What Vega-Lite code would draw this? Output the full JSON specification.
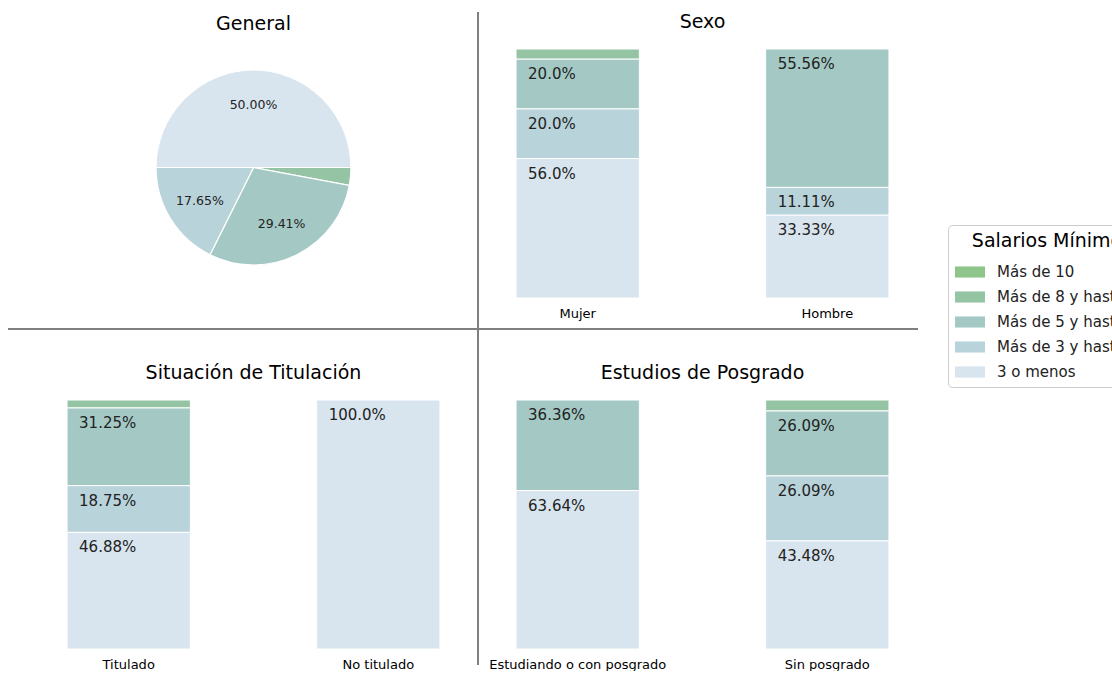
{
  "$schema": "https://vega.github.io/schema/vega-lite/v6.json",
  "background": "white",
  "padding": {"left": 7, "top": 11, "right": 0, "bottom": 0},
  "config": {
    "font": "DejaVu Sans",
    "view": {"stroke": null},
    "title": {"fontSize": 19, "fontWeight": "normal", "color": "#000000", "offset": 17, "frame": "group"},
    "axis": {"labelFont": "DejaVu Sans"}
  },
  "datasets": {
    "general": [
      {"cat": "3 o menos", "pct": 50.0, "label": "50.00%", "ord": 1},
      {"cat": "Más de 8 y hasta 10", "pct": 2.94, "label": "", "ord": 2},
      {"cat": "Más de 5 y hasta 8", "pct": 29.41, "label": "29.41%", "ord": 3},
      {"cat": "Más de 3 y hasta 5", "pct": 17.65, "label": "17.65%", "ord": 4}
    ],
    "sexo": [
      {"group": "Mujer", "cat": "3 o menos", "pct": 56.0, "label": "56.0%", "ord": 1},
      {"group": "Mujer", "cat": "Más de 3 y hasta 5", "pct": 20.0, "label": "20.0%", "ord": 2},
      {"group": "Mujer", "cat": "Más de 5 y hasta 8", "pct": 20.0, "label": "20.0%", "ord": 3},
      {"group": "Mujer", "cat": "Más de 8 y hasta 10", "pct": 4.0, "label": "", "ord": 4},
      {"group": "Hombre", "cat": "3 o menos", "pct": 33.33, "label": "33.33%", "ord": 1},
      {"group": "Hombre", "cat": "Más de 3 y hasta 5", "pct": 11.11, "label": "11.11%", "ord": 2},
      {"group": "Hombre", "cat": "Más de 5 y hasta 8", "pct": 55.56, "label": "55.56%", "ord": 3}
    ],
    "titulacion": [
      {"group": "Titulado", "cat": "3 o menos", "pct": 46.88, "label": "46.88%", "ord": 1},
      {"group": "Titulado", "cat": "Más de 3 y hasta 5", "pct": 18.75, "label": "18.75%", "ord": 2},
      {"group": "Titulado", "cat": "Más de 5 y hasta 8", "pct": 31.25, "label": "31.25%", "ord": 3},
      {"group": "Titulado", "cat": "Más de 8 y hasta 10", "pct": 3.12, "label": "", "ord": 4},
      {"group": "No titulado", "cat": "3 o menos", "pct": 100.0, "label": "100.0%", "ord": 1}
    ],
    "posgrado": [
      {"group": "Estudiando o con posgrado", "cat": "3 o menos", "pct": 63.64, "label": "63.64%", "ord": 1},
      {"group": "Estudiando o con posgrado", "cat": "Más de 5 y hasta 8", "pct": 36.36, "label": "36.36%", "ord": 3},
      {"group": "Sin posgrado", "cat": "3 o menos", "pct": 43.48, "label": "43.48%", "ord": 1},
      {"group": "Sin posgrado", "cat": "Más de 3 y hasta 5", "pct": 26.09, "label": "26.09%", "ord": 2},
      {"group": "Sin posgrado", "cat": "Más de 5 y hasta 8", "pct": 26.09, "label": "26.09%", "ord": 3},
      {"group": "Sin posgrado", "cat": "Más de 8 y hasta 10", "pct": 4.34, "label": "", "ord": 4}
    ]
  },
  "columns": 2,
  "bounds": "flush",
  "spacing": {"row": 102, "column": 38},
  "resolve": {"scale": {"color": "shared", "x": "independent", "y": "independent", "theta": "independent"}, "legend": {"color": "shared"}},
  "concat": [
    {
      "title": {"text": "General", "offset": -23},
      "width": 411,
      "height": 237,
      "layer": [
        {
          "data": {"name": "general"},
          "mark": {"type": "arc", "outerRadius": 97.5, "stroke": "white", "strokeWidth": 1.2},
          "encoding": {
            "theta": {"field": "pct", "type": "quantitative", "stack": true, "scale": {"range": [-1.5708, 4.7124]}},
            "order": {"field": "ord", "type": "quantitative"},
            "color": {"field": "cat", "type": "nominal",
              "scale": {"domain": ["Más de 10", "Más de 8 y hasta 10", "Más de 5 y hasta 8", "Más de 3 y hasta 5", "3 o menos"],
                        "range": ["#8dc58b", "#95c4a5", "#a4c9c5", "#b9d3db", "#d8e5ee"]},
              "legend": {"title": "Salarios Mínimos", "orient": "none", "legendX": 900, "legendY": 176,
                "titleFontSize": 19, "titleFontWeight": "normal", "titleColor": "#000000", "titleAnchor": "middle", "titlePadding": 6,
                "labelFontSize": 15, "labelColor": "#222222", "labelOffset": 12, "labelLimit": 300,
                "symbolType": "M-1,-0.37H1V0.37H-1Z", "symbolSize": 900, "symbolStrokeWidth": 0, "symbolOpacity": 1,
                "strokeColor": "#cccccc", "cornerRadius": 4, "padding": 7, "rowPadding": 2}}
          }
        },
        {
          "data": {"name": "general"},
          "mark": {"type": "text", "radius": 63, "fontSize": 12.5, "color": "#222222"},
          "encoding": {
            "theta": {"field": "pct", "type": "quantitative", "stack": true, "scale": {"range": [-1.5708, 4.7124]}},
            "order": {"field": "ord", "type": "quantitative"},
            "detail": {"field": "cat"},
            "text": {"field": "label"}
          }
        },
        {
          "data": {"values": [{}]},
          "mark": {"type": "rule", "color": "#808080", "strokeWidth": 2},
          "encoding": {"x": {"value": -40}, "x2": {"value": 870}, "y": {"value": 280}}
        },
        {
          "data": {"values": [{}]},
          "mark": {"type": "rule", "color": "#808080", "strokeWidth": 2},
          "encoding": {"x": {"value": 430}, "y": {"value": -37}, "y2": {"value": 616}}
        }
      ]
    },
    {
      "title": "Sexo",
      "width": 411,
      "height": 249,
      "data": {"name": "sexo"},
      "encoding": {
        "y": {"field": "pct", "type": "quantitative", "stack": "zero", "scale": {"domain": [0, 100]}, "axis": null},
        "order": {"field": "ord", "type": "quantitative"},
        "detail": {"field": "cat"}
      },
      "layer": [
        {
          "mark": {"type": "bar", "stroke": "white", "strokeWidth": 1},
          "encoding": {
            "x": {"field": "group", "type": "nominal", "sort": ["Mujer", "Hombre"], "scale": {"paddingInner": 0.506, "paddingOuter": 0.0763},
              "axis": {"title": null, "labelAngle": 0, "ticks": false, "domain": false, "labelFontSize": 13, "labelPadding": 9, "labelColor": "#000000"}},
            "color": {"field": "cat", "type": "nominal",
              "scale": {"domain": ["Más de 10", "Más de 8 y hasta 10", "Más de 5 y hasta 8", "Más de 3 y hasta 5", "3 o menos"],
                        "range": ["#8dc58b", "#95c4a5", "#a4c9c5", "#b9d3db", "#d8e5ee"]}}
          }
        },
        {
          "mark": {"type": "text", "align": "left", "baseline": "top", "dx": 12, "dy": 8, "fontSize": 15, "color": "#222222"},
          "encoding": {
            "x": {"field": "group", "type": "nominal", "sort": ["Mujer", "Hombre"], "bandPosition": 0},
            "text": {"field": "label"}
          }
        }
      ]
    },
    {
      "title": "Situación de Titulación",
      "width": 411,
      "height": 249,
      "data": {"name": "titulacion"},
      "encoding": {
        "y": {"field": "pct", "type": "quantitative", "stack": "zero", "scale": {"domain": [0, 100]}, "axis": null},
        "order": {"field": "ord", "type": "quantitative"},
        "detail": {"field": "cat"}
      },
      "layer": [
        {
          "mark": {"type": "bar", "stroke": "white", "strokeWidth": 1},
          "encoding": {
            "x": {"field": "group", "type": "nominal", "sort": ["Titulado", "No titulado"], "scale": {"paddingInner": 0.506, "paddingOuter": 0.0763},
              "axis": {"title": null, "labelAngle": 0, "ticks": false, "domain": false, "labelFontSize": 13, "labelPadding": 9, "labelColor": "#000000"}},
            "color": {"field": "cat", "type": "nominal",
              "scale": {"domain": ["Más de 10", "Más de 8 y hasta 10", "Más de 5 y hasta 8", "Más de 3 y hasta 5", "3 o menos"],
                        "range": ["#8dc58b", "#95c4a5", "#a4c9c5", "#b9d3db", "#d8e5ee"]}}
          }
        },
        {
          "mark": {"type": "text", "align": "left", "baseline": "top", "dx": 12, "dy": 8, "fontSize": 15, "color": "#222222"},
          "encoding": {
            "x": {"field": "group", "type": "nominal", "sort": ["Titulado", "No titulado"], "bandPosition": 0},
            "text": {"field": "label"}
          }
        }
      ]
    },
    {
      "title": "Estudios de Posgrado",
      "width": 411,
      "height": 249,
      "data": {"name": "posgrado"},
      "encoding": {
        "y": {"field": "pct", "type": "quantitative", "stack": "zero", "scale": {"domain": [0, 100]}, "axis": null},
        "order": {"field": "ord", "type": "quantitative"},
        "detail": {"field": "cat"}
      },
      "layer": [
        {
          "mark": {"type": "bar", "stroke": "white", "strokeWidth": 1},
          "encoding": {
            "x": {"field": "group", "type": "nominal", "sort": ["Estudiando o con posgrado", "Sin posgrado"], "scale": {"paddingInner": 0.506, "paddingOuter": 0.0763},
              "axis": {"title": null, "labelAngle": 0, "ticks": false, "domain": false, "labelFontSize": 13, "labelPadding": 9, "labelColor": "#000000"}},
            "color": {"field": "cat", "type": "nominal",
              "scale": {"domain": ["Más de 10", "Más de 8 y hasta 10", "Más de 5 y hasta 8", "Más de 3 y hasta 5", "3 o menos"],
                        "range": ["#8dc58b", "#95c4a5", "#a4c9c5", "#b9d3db", "#d8e5ee"]}}
          }
        },
        {
          "mark": {"type": "text", "align": "left", "baseline": "top", "dx": 12, "dy": 8, "fontSize": 15, "color": "#222222"},
          "encoding": {
            "x": {"field": "group", "type": "nominal", "sort": ["Estudiando o con posgrado", "Sin posgrado"], "bandPosition": 0},
            "text": {"field": "label"}
          }
        }
      ]
    }
  ]
}
